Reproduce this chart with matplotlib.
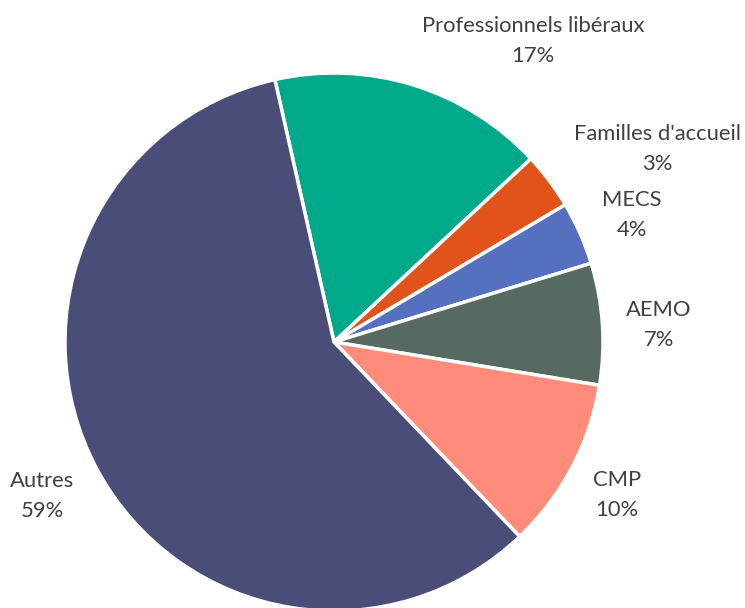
import matplotlib.pyplot as plt

# Données
categories = ['Professionnels libéraux', "Familles d'accueil", 'MECS', 'AEMO', 'CMP', 'Autres']
valeurs = [16.6, 3.4, 3.8, 7.3, 10.3, 58.6]
couleurs = ['#00A98A', '#E0531B', '#5670C0', '#576A62', '#FF8B7B', '#494D78']

# positions des étiquettes (pixels de l'image de référence)
pos_etiquettes = [(533, 41), (657, 149), (632, 215), (659, 325), (617, 495), (42, 496)]

plt.rcParams['font.family'] = ['Lato', 'DejaVu Sans']

W, H = 745, 608
cx, cy, r = 334, 342, 269

fig = plt.figure(figsize=(W / 100, H / 100), dpi=100)
ax = fig.add_axes([(cx - r) / W, (H - cy - r) / H, 2 * r / W, 2 * r / H])
ax.pie(valeurs, colors=couleurs, startangle=102.7, counterclock=False,
       wedgeprops=dict(edgecolor='white', linewidth=2.5), radius=1)
ax.set_xlim(-1, 1)
ax.set_ylim(-1, 1)
ax.set_aspect('equal')
ax.axis('off')

total = sum(valeurs)
for cat, v, (px, py) in zip(categories, valeurs, pos_etiquettes):
    pct = f"{round(100 * v / total)}%"
    fig.text(px / W, 1 - py / H, f"{cat}\n{pct}", ha='center', va='center',
             fontsize=15.8, color='#404040', linespacing=1.65)

fig.savefig('out.png', dpi=100)
